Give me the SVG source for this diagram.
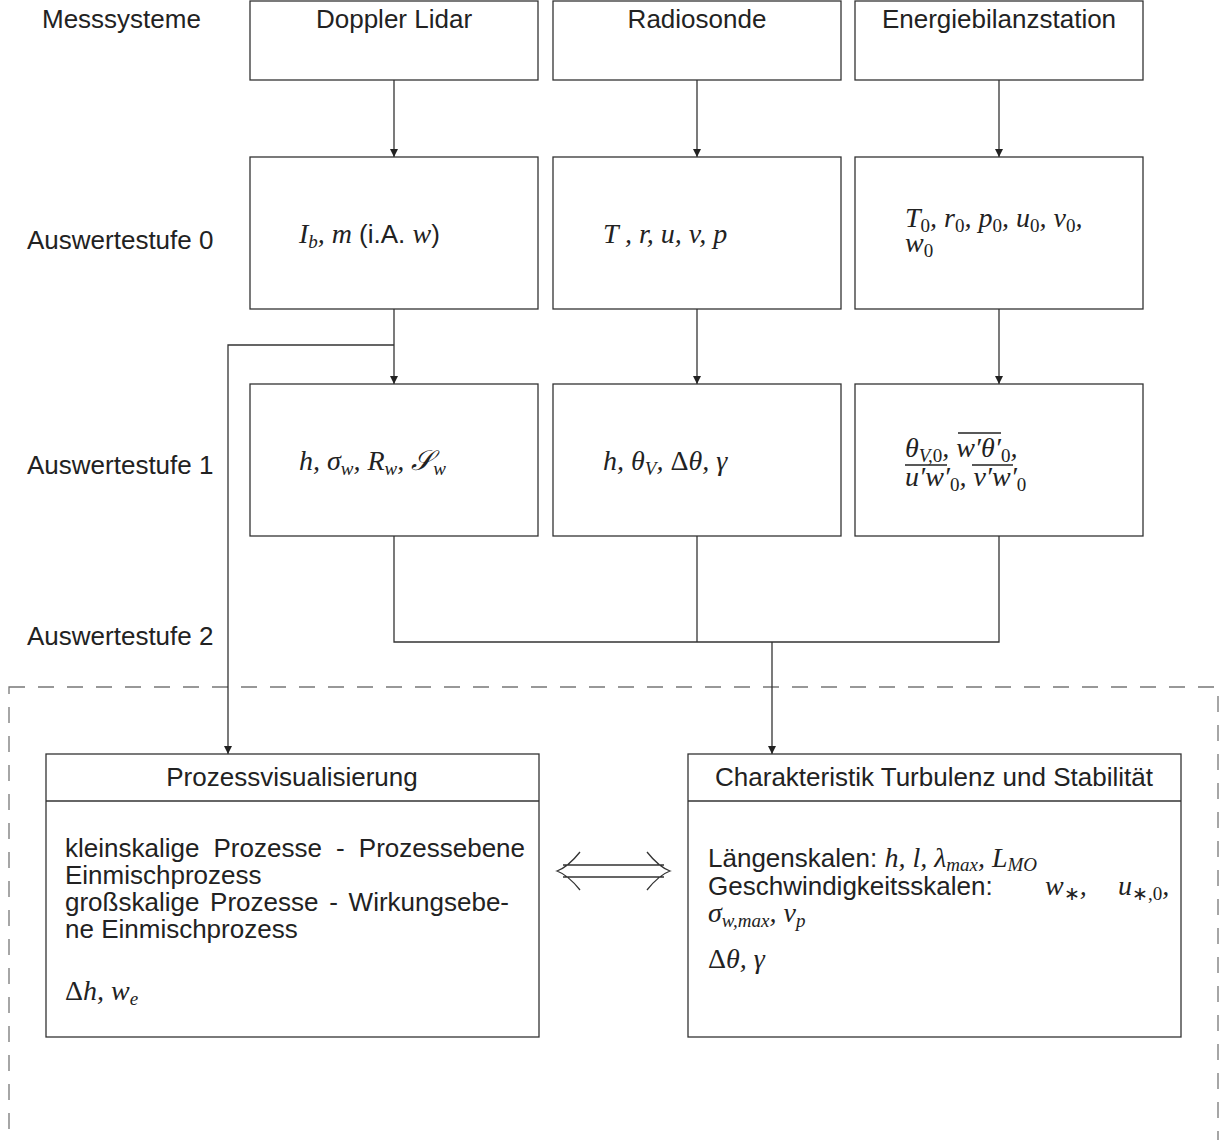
<svg xmlns="http://www.w3.org/2000/svg" width="1220" height="1140" viewBox="0 0 1220 1140">
<style>
.box{fill:#fff;stroke:#333;stroke-width:1.3}
.t{font-family:"Liberation Sans",Arial,sans-serif;font-size:26px;fill:#222}
.m{font-family:"Liberation Serif","Times New Roman",serif;font-style:italic;font-size:28px;fill:#222}
.sub{font-size:19px}
.up{font-style:normal}
.c{text-anchor:middle}
.ln{fill:none;stroke:#333;stroke-width:1.3}
.ov{stroke:#222;stroke-width:1.3}
</style>
<defs>
<marker id="ah" markerUnits="userSpaceOnUse" markerWidth="8" markerHeight="10" refX="8" refY="4" orient="auto">
<path d="M0,0 L8,4 L0,8 Z" fill="#222"/>
</marker>
</defs>
<rect x="9" y="687" width="1209" height="520" fill="none" stroke="#777" stroke-width="1.3" stroke-dasharray="16 13"/>
<g id="labels">
<text class="t" x="42" y="28">Messsysteme</text>
<text class="t" x="27" y="249">Auswertestufe 0</text>
<text class="t" x="27" y="474">Auswertestufe 1</text>
<text class="t" x="27" y="645">Auswertestufe 2</text>
</g>
<g id="connectors">
<path class="ln" d="M394,80 V157" marker-end="url(#ah)"/>
<path class="ln" d="M697,80 V157" marker-end="url(#ah)"/>
<path class="ln" d="M999,80 V157" marker-end="url(#ah)"/>
<path class="ln" d="M394,309 V384" marker-end="url(#ah)"/>
<path class="ln" d="M394,345 H228 V754" marker-end="url(#ah)"/>
<path class="ln" d="M697,309 V384" marker-end="url(#ah)"/>
<path class="ln" d="M999,309 V384" marker-end="url(#ah)"/>
<path class="ln" d="M394,536 V642 H999 V536"/>
<path class="ln" d="M697,536 V642" stroke="#888"/>
<path class="ln" d="M772,642 V754" marker-end="url(#ah)"/>
<path class="ln" d="M563,865 H664 M563,877 H664 M580,852 Q568,867 557,871 Q568,875 580,890 M647,852 Q659,867 670,871 Q659,875 647,890"/>
</g>
<g id="doppler">
<rect class="box" x="250" y="1" width="288" height="79"/>
<text class="t c" x="394" y="28">Doppler Lidar</text>
</g>
<g id="radiosonde">
<rect class="box" x="553" y="1" width="288" height="79"/>
<text class="t c" x="697" y="28">Radiosonde</text>
</g>
<g id="energie">
<rect class="box" x="855" y="1" width="288" height="79"/>
<text class="t c" x="999" y="28">Energiebilanzstation</text>
</g>
<g id="doppler0">
<rect class="box" x="250" y="157" width="288" height="152"/>
<text x="299" y="243"><tspan class="m">I</tspan><tspan class="m sub" dy="5">b</tspan><tspan class="m" dy="-5">, m </tspan><tspan class="t">(i.A. </tspan><tspan class="m">w</tspan><tspan class="t">)</tspan></text>
</g>
<g id="radio0">
<rect class="box" x="553" y="157" width="288" height="152"/>
<text class="m" x="603" y="243">T , r, u, v, p</text>
</g>
<g id="energie0">
<rect class="box" x="855" y="157" width="288" height="152"/>
<text class="m" x="905" y="227">T<tspan class="sub up" dy="5">0</tspan><tspan dy="-5">, r</tspan><tspan class="sub up" dy="5">0</tspan><tspan dy="-5">, p</tspan><tspan class="sub up" dy="5">0</tspan><tspan dy="-5">, u</tspan><tspan class="sub up" dy="5">0</tspan><tspan dy="-5">, v</tspan><tspan class="sub up" dy="5">0</tspan><tspan dy="-5">,</tspan></text>
<text class="m" x="905" y="252">w<tspan class="sub up" dy="5">0</tspan></text>
</g>
<g id="doppler1">
<rect class="box" x="250" y="384" width="288" height="152"/>
<text class="m" x="299" y="470">h, σ<tspan class="sub" dy="5">w</tspan><tspan dy="-5">, R</tspan><tspan class="sub" dy="5">w</tspan><tspan dy="-5">, 𝒮</tspan><tspan class="sub" dy="5">w</tspan></text>
</g>
<g id="radio1">
<rect class="box" x="553" y="384" width="288" height="152"/>
<text class="m" x="603" y="470">h, θ<tspan class="sub" dy="5">V</tspan><tspan dy="-5">, </tspan><tspan class="up">Δ</tspan>θ, γ</text>
</g>
<g id="energie1">
<rect class="box" x="855" y="384" width="288" height="152"/>
<text class="m" x="905" y="457">θ<tspan class="sub" dy="5">V,</tspan><tspan class="sub up">0</tspan><tspan dy="-5">, w′θ′</tspan><tspan class="sub up" dy="5">0</tspan><tspan dy="-5">,</tspan></text>
<text class="m" x="905" y="486">u′w′<tspan class="sub up" dy="5">0</tspan><tspan dy="-5">, v′w′</tspan><tspan class="sub up" dy="5">0</tspan></text>
<line class="ov" x1="958" y1="433" x2="1001" y2="433"/>
<line class="ov" x1="905" y1="465" x2="947" y2="465"/>
<line class="ov" x1="972" y1="465" x2="1013" y2="465"/>
</g>
<g id="prozess">
<rect class="box" x="46" y="754" width="493" height="283"/>
<line class="ln" x1="46" y1="801" x2="539" y2="801"/>
<text class="t c" x="292" y="786">Prozessvisualisierung</text>
<text class="t" x="65" y="857" word-spacing="6.9">kleinskalige Prozesse - Prozessebene</text>
<text class="t" x="65" y="884">Einmischprozess</text>
<text class="t" x="65" y="911" word-spacing="3.5">großskalige Prozesse - Wirkungsebe-</text>
<text class="t" x="65" y="938">ne Einmischprozess</text>
<text class="m" x="65" y="1000"><tspan class="up">Δ</tspan>h, w<tspan class="sub" dy="5">e</tspan></text>
</g>
<g id="charakteristik">
<rect class="box" x="688" y="754" width="493" height="283"/>
<line class="ln" x1="688" y1="801" x2="1181" y2="801"/>
<text class="t c" x="934" y="786">Charakteristik Turbulenz und Stabilität</text>
<text x="708" y="867"><tspan class="t">Längenskalen: </tspan><tspan class="m">h, l, λ</tspan><tspan class="m sub" dy="4">max</tspan><tspan class="m" dy="-4">, L</tspan><tspan class="m sub" dy="4">MO</tspan></text>
<text class="t" x="708" y="895">Geschwindigkeitsskalen:</text>
<text class="m" x="1045" y="895">w<tspan class="sub up" dy="5">∗</tspan><tspan dy="-5">,</tspan></text>
<text class="m" x="1118" y="895">u<tspan class="sub up" dy="5">∗,0</tspan><tspan dy="-5">,</tspan></text>
<text class="m" x="708" y="922">σ<tspan class="sub" dy="5">w,max</tspan><tspan dy="-5">, v</tspan><tspan class="sub" dy="5">p</tspan></text>
<text class="m" x="708" y="968"><tspan class="up">Δ</tspan>θ, γ</text>
</g>
</svg>
